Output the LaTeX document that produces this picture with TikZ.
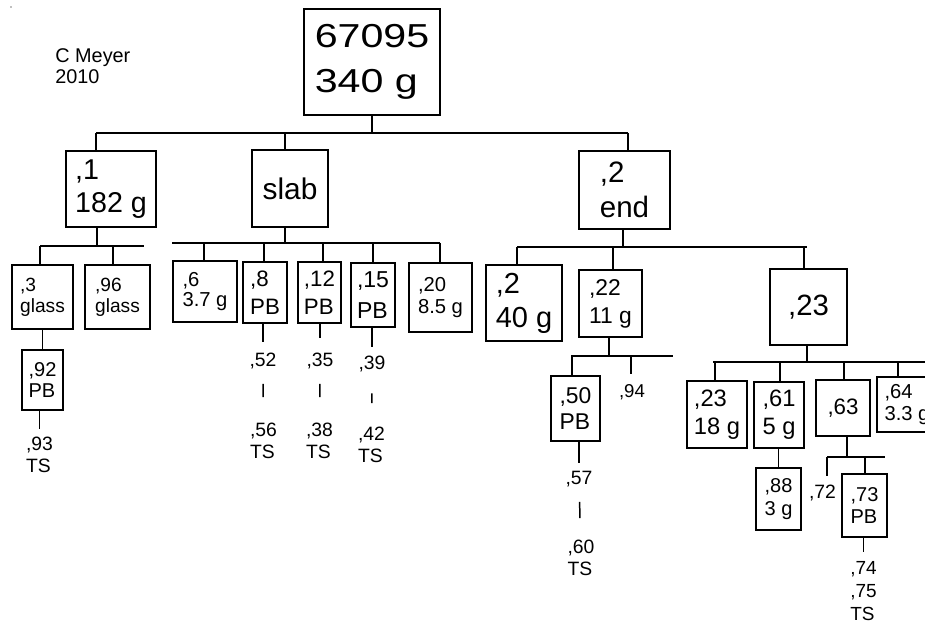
\documentclass[tikz,border=0pt]{standalone}
\usepackage{fontspec}
\setmainfont{Liberation Sans}
\newcommand{\fsz}[2]{\fontsize{#1pt}{#2pt}\selectfont}

\begin{document}
\begin{tikzpicture}[x=0.02cm, y=-0.02cm]
  \def\px{0.02cm} % one pixel of the original sheet
  \tikzset{
    box/.style={draw=black, line width=0.85pt, inner sep=0pt, align=left},
    tag/.style={inner sep=0pt, align=left, font=\fsz{11}{12.5}},
    wire/.style={line width=0.85pt, draw=black}
  }
  \useasboundingbox (0,0) rectangle (925,624);
  \clip (0,0) rectangle (925,624);

  \fill[black!50] (11,7) circle (0.8);
  \node[tag, anchor=north west, font=\fsz{11.3}{12}] (auth) at (55,48) {C Meyer\\2010};

  % sample and first splits
  \node[box, minimum width=136*\px, minimum height=106*\px, font=\fsz{18.9}{25.5}] (top) at (372,62)
    {\scalebox{1.24}[1]{67095}\\\scalebox{1.24}[1]{340 g}};
  \node[box, minimum width=90*\px, minimum height=76*\px, font=\fsz{16.3}{18.7}] (n1) at (111,189) {,1\\182 g};
  \node[box, minimum width=76*\px, minimum height=77*\px, font=\fsz{17}{20}] (slab) at (290,188.5) {slab};
  \node[box, minimum width=91*\px, minimum height=78*\px, font=\fsz{16.8}{19.8}] (n2) at (624.5,190) {,2\\end};

  % under ,1
  \node[box, minimum width=61*\px, minimum height=64*\px, font=\fsz{10.9}{12}] (n3) at (42.5,297) {,3\\glass};
  \node[box, minimum width=65*\px, minimum height=64*\px, font=\fsz{10.9}{12}] (n96) at (117.5,297) {,96\\glass};
  \node[box, minimum width=41*\px, minimum height=60*\px, font=\fsz{11.4}{12}] (n92) at (42.5,380) {,92\\PB};
  \node[tag, anchor=north] (l93) at (39.5,437) {,93\\TS};

  % under slab
  \node[box, minimum width=64*\px, minimum height=61*\px, font=\fsz{11.5}{11.3}] (n6) at (205,291.5) {,6\\3.7 g};
  \node[box, minimum width=44*\px, minimum height=61*\px, font=\fsz{12.7}{16}] (n8) at (265,292.5) {,8\\PB};
  \node[box, minimum width=43*\px, minimum height=61*\px, font=\fsz{12.7}{16}] (n12) at (319.5,292.5) {,12\\PB};
  \node[box, minimum width=44*\px, minimum height=64*\px, font=\fsz{13.1}{17.6}] (n15) at (373,295) {,15\\PB};
  \node[box, minimum width=63*\px, minimum height=69*\px, font=\fsz{11.5}{12.5}] (n20) at (440.5,297.5) {,20\\8.5 g};
  \node[tag] (l52) at (263,361) {,52};
  \node[tag, anchor=north] (l56) at (263.5,423) {,56\\TS};
  \node[tag] (l35) at (320,361) {,35};
  \node[tag, anchor=north] (l38) at (319.5,423) {,38\\TS};
  \node[tag] (l39) at (372,363.5) {,39};
  \node[tag, anchor=north] (l42) at (371.5,427) {,42\\TS};

  % under ,2 end
  \node[box, minimum width=76*\px, minimum height=76*\px, font=\fsz{16.5}{19.3}] (n2b) at (524,303) {,2\\40 g};
  \node[box, minimum width=63*\px, minimum height=67*\px, font=\fsz{13}{16}] (n22) at (610.5,303.5) {,22\\11 g};
  \node[box, minimum width=77*\px, minimum height=76*\px, font=\fsz{16.7}{20}] (n23) at (808.5,307) {,23};
  \node[box, minimum width=49*\px, minimum height=65*\px, font=\fsz{13}{14.7}] (n50) at (575.5,408.5) {,50\\PB};
  \node[tag, font=\fsz{10.6}{12}] (l94) at (632,392.5) {,94};
  \node[tag] (l57) at (579,479) {,57};
  \node[tag, anchor=north] (l60) at (581,540) {,60\\TS};

  % under ,23
  \node[box, minimum width=60*\px, minimum height=67*\px, font=\fsz{13.5}{16}] (n23b) at (717,414.5) {,23\\18 g};
  \node[box, minimum width=50*\px, minimum height=66*\px, font=\fsz{13.5}{16}] (n61) at (779,415) {,61\\5 g};
  \node[box, minimum width=54*\px, minimum height=56*\px, font=\fsz{12.7}{15}] (n63) at (843,408) {,63};
  \node[box, minimum width=60*\px, minimum height=55*\px, font=\fsz{11.5}{12.5}] (n64) at (907,404.5) {,64\\3.3 g};
  \node[box, minimum width=45*\px, minimum height=62*\px, font=\fsz{11.4}{13}] (n88) at (778.5,499) {,88\\3 g};
  \node[tag] (l72) at (822.5,493) {,72};
  \node[box, minimum width=45*\px, minimum height=63*\px, font=\fsz{11.4}{13}] (n73) at (864.5,505.5) {,73\\PB};
  \node[tag, anchor=north, font=\fsz{10.8}{13.2}] (l74) at (863.5,561) {,74\\,75\\TS};

  % bus under the sample
  \coordinate (b0l) at (96,133);
  \coordinate (b0s) at (285,133);
  \coordinate (b0r) at (628,133);
  \draw[wire] (top.south) -- (top.south |- b0l);
  \draw[wire] (b0l) -- (b0r);
  \draw[wire] (b0l) -- (b0l |- n1.north);
  \draw[wire] (b0s) -- (b0s |- slab.north);
  \draw[wire] (b0r) -- (b0r |- n2.north);

  % bus under ,1
  \coordinate (b1l) at (40,246);
  \coordinate (b1p) at (97,246);
  \coordinate (b1a) at (113,246);
  \coordinate (b1r) at (144,246);
  \draw[wire] (b1p |- n1.south) -- (b1p);
  \draw[wire] (b1l) -- (b1r);
  \draw[wire] (b1l) -- (b1l |- n3.north);
  \draw[wire] (b1a) -- (b1a |- n96.north);
  \draw[wire] (n92.north |- n3.south) -- (n92.north);
  \draw[wire, shorten >=4.5pt] (l93.north |- n92.south) -- (l93.north);

  % bus under slab
  \coordinate (b2l) at (172,243);
  \coordinate (b2a) at (204,243);
  \coordinate (b2b) at (264,243);
  \coordinate (b2p) at (285,243);
  \coordinate (b2c) at (323,243);
  \coordinate (b2d) at (373,243);
  \coordinate (b2r) at (440,243);
  \draw[wire] (b2p |- slab.south) -- (b2p);
  \draw[wire] (b2l) -- (b2r);
  \draw[wire] (b2a) -- (b2a |- n6.north);
  \draw[wire] (b2b) -- (b2b |- n8.north);
  \draw[wire] (b2c) -- (b2c |- n12.north);
  \draw[wire] (b2d) -- (b2d |- n15.north);
  \draw[wire] (b2r) -- (b2r |- n20.north);
  \draw[wire, shorten >=6pt] (l52.north |- n8.south) -- (l52.north);
  \draw[wire, shorten >=8.3pt] (l35.north |- n12.south) -- (l35.north);
  \draw[wire, shorten >=4.5pt] (l39.north |- n15.south) -- (l39.north);
  \draw[wire, shorten <=8.3pt, shorten >=14.7pt] (l52) -- (l56);
  \draw[wire, shorten <=8.3pt, shorten >=14.7pt] (l35) -- (l38);
  \draw[wire, shorten <=12.2pt, shorten >=13.6pt] (l39) -- (l42);

  % bus under ,2 end
  \coordinate (b3l) at (517,247);
  \coordinate (b3a) at (613,247);
  \coordinate (b3p) at (623,247);
  \coordinate (b3r) at (804,247);
  \coordinate (b3e) at (807,247);
  \draw[wire] (b3p |- n2.south) -- (b3p);
  \draw[wire] (b3l) -- (b3e);
  \draw[wire] (b3l) -- (b3l |- n2b.north);
  \draw[wire] (b3a) -- (b3a |- n22.north);
  \draw[wire] (b3r) -- (b3r |- n23.north);

  % bus under ,22
  \coordinate (b4l) at (571,356);
  \coordinate (b4a) at (572,356);
  \coordinate (b4p) at (609,356);
  \coordinate (b4b) at (631,356);
  \coordinate (b4r) at (673,356);
  \draw[wire] (b4p |- n22.south) -- (b4p);
  \draw[wire] (b4l) -- (b4r);
  \draw[wire] (b4a) -- (b4a |- n50.north);
  \draw[wire, shorten >=5.7pt] (b4b) -- (b4b |- l94.north);
  \draw[wire, shorten >=4.3pt] (l57.north |- n50.south) -- (l57.north);
  \draw[wire, shorten <=8.3pt, shorten >=12.5pt] (l57) -- (l60);

  % bus under ,23
  \coordinate (b5l) at (713,362);
  \coordinate (b5a) at (715,362);
  \coordinate (b5b) at (780,362);
  \coordinate (b5p) at (807,362);
  \coordinate (b5c) at (844,362);
  \coordinate (b5d) at (898,362);
  \coordinate (b5r) at (935,362);
  \draw[wire] (b5p |- n23.south) -- (b5p);
  \draw[wire] (b5l) -- (b5r);
  \draw[wire] (b5a) -- (b5a |- n23b.north);
  \draw[wire] (b5b) -- (b5b |- n61.north);
  \draw[wire] (b5c) -- (b5c |- n63.north);
  \draw[wire] (b5d) -- (b5d |- n64.north);
  \draw[wire] (n88.north |- n61.south) -- (n88.north);

  % bus under ,63
  \coordinate (b6l) at (827,457);
  \coordinate (b6p) at (847,457);
  \coordinate (b6a) at (865,457);
  \coordinate (b6r) at (885,457);
  \draw[wire] (b6p |- n63.south) -- (b6p);
  \draw[wire] (b6l) -- (b6r);
  \draw[wire, shorten >=4.9pt] (b6l) -- (b6l |- l72.north);
  \draw[wire] (b6a) -- (b6a |- n73.north);
  \draw[wire, shorten >=5pt] (l74.north |- n73.south) -- (l74.north);
\end{tikzpicture}
\end{document}
